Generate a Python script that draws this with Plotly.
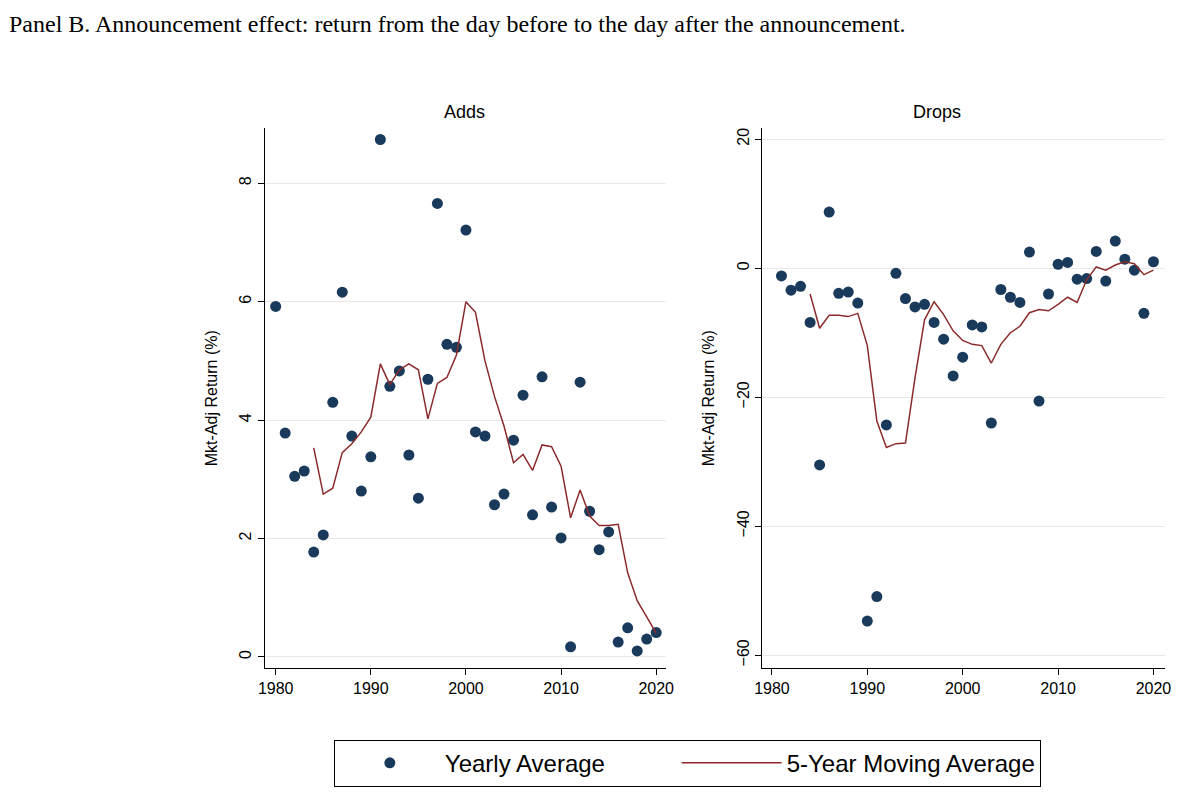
import plotly.graph_objects as go

years = list(range(1980, 2021))
adds_yearly = [5.92, 3.78, 3.05, 3.14, 1.77, 2.06, 4.30, 6.16, 3.73, 2.80, 3.38, 8.74, 4.57, 4.83,
               3.41, 2.68, 4.69, 7.66, 5.28, 5.23, 7.21, 3.80, 3.73, 2.57, 2.75, 3.66, 4.42, 2.40,
               4.73, 2.53, 2.01, 0.17, 4.64, 2.46, 1.81, 2.11, 0.25, 0.49, 0.10, 0.30, 0.41]
ma_years = list(range(1984, 2021))
adds_ma = [3.53, 2.75, 2.85, 3.45, 3.60, 3.80, 4.05, 4.95, 4.60, 4.85, 4.95, 4.85, 4.02, 4.62,
           4.72, 5.10, 6.00, 5.82, 5.00, 4.40, 3.90, 3.28, 3.42, 3.15, 3.58, 3.55, 3.22, 2.35,
           2.82, 2.38, 2.22, 2.22, 2.24, 1.42, 0.95, 0.68, 0.40]

drop_years = list(range(1981, 2021))
drops_yearly = [-1.2, -3.4, -2.8, -8.4, -30.5, 8.7, -3.9, -3.7, -5.4, -54.7, -50.9, -24.3, -0.8,
                -4.7, -6.0, -5.6, -8.4, -11.0, -16.7, -13.8, -8.8, -9.1, -24.0, -3.3, -4.5, -5.3,
                2.5, -20.6, -4.0, 0.6, 0.9, -1.7, -1.6, 2.6, -2.0, 4.2, 1.4, -0.3, -7.0, 1.0]
drops_ma = [-4.0, -9.3, -7.3, -7.3, -7.5, -7.0, -12.0, -23.7, -27.8, -27.2, -27.1, -17.0, -8.0,
            -5.2, -7.2, -9.7, -11.2, -11.8, -12.0, -14.7, -11.8, -10.0, -9.0, -6.9, -6.4, -6.6,
            -5.6, -4.5, -5.3, -1.8, 0.2, -0.3, 0.5, 1.0, 0.7, -1.0, -0.3]

dot = "#1a3a5c"
red = "#8b2c2c"
font = "Liberation Sans"

fig = go.Figure()
fig.add_trace(go.Scatter(x=years, y=adds_yearly, mode="markers", name="Yearly Average          ",
                         marker=dict(color=dot, size=11), xaxis="x", yaxis="y"))
fig.add_trace(go.Scatter(x=ma_years, y=adds_ma, mode="lines", name="5-Year Moving Average",
                         line=dict(color=red, width=1.5), xaxis="x", yaxis="y"))
fig.add_trace(go.Scatter(x=drop_years, y=drops_yearly, mode="markers", showlegend=False,
                         marker=dict(color=dot, size=11), xaxis="x2", yaxis="y2"))
fig.add_trace(go.Scatter(x=ma_years, y=drops_ma, mode="lines", showlegend=False,
                         line=dict(color=red, width=1.5), xaxis="x2", yaxis="y2"))

ax = dict(showline=True, linecolor="black", ticks="outside", ticklen=6, tickcolor="black",
          tickfont=dict(size=16, color="black", family=font), zeroline=False)
ydom = [0.182, 0.851]
fig.update_layout(
    width=1200, height=807, margin=dict(l=0, r=0, t=0, b=0),
    paper_bgcolor="white", plot_bgcolor="white", font=dict(family=font, color="black"),
    xaxis=dict(ax, domain=[252/1200, 659/1200], range=[1978.84, 2021.05],
               tickvals=[1980, 1990, 2000, 2010, 2020], showgrid=False, anchor="y"),
    yaxis=dict(ax, domain=ydom, range=[-0.19, 8.93], tickvals=[0, 2, 4, 6, 8],
               tickangle=-90, showgrid=True, gridcolor="#e8e8e8", anchor="x",
               title=dict(text="Mkt-Adj Return (%)", font=dict(size=16))),
    xaxis2=dict(ax, domain=[756/1200, 1165/1200], range=[1978.95, 2021.26],
                tickvals=[1980, 1990, 2000, 2010, 2020], showgrid=False, anchor="y2"),
    yaxis2=dict(ax, domain=ydom, range=[-62.0, 21.7], tickvals=[-60, -40, -20, 0, 20],
                tickangle=-90, showgrid=True, gridcolor="#e8e8e8", anchor="x2",
                title=dict(text="Mkt-Adj Return (%)", font=dict(size=16))),
    legend=dict(orientation="h", x=0.567, xanchor="center", y=0.035, yanchor="bottom",
                bordercolor="black", borderwidth=1, font=dict(size=24, family=font),
                itemwidth=100),
    annotations=[
        dict(text="Panel B. Announcement effect: return from the day before to the day after the announcement.",
             x=-0.008, y=1-16/807, xref="paper", yref="paper", xanchor="left", yanchor="middle",
             showarrow=False, font=dict(size=24, family="Liberation Serif")),
        dict(text="Adds", x=455/1200, y=1-92/807, xref="paper", yref="paper", showarrow=False,
             font=dict(size=18)),
        dict(text="Drops", x=960/1200, y=1-92/807, xref="paper", yref="paper", showarrow=False,
             font=dict(size=18)),
    ],
)
fig.write_html("out.html")
